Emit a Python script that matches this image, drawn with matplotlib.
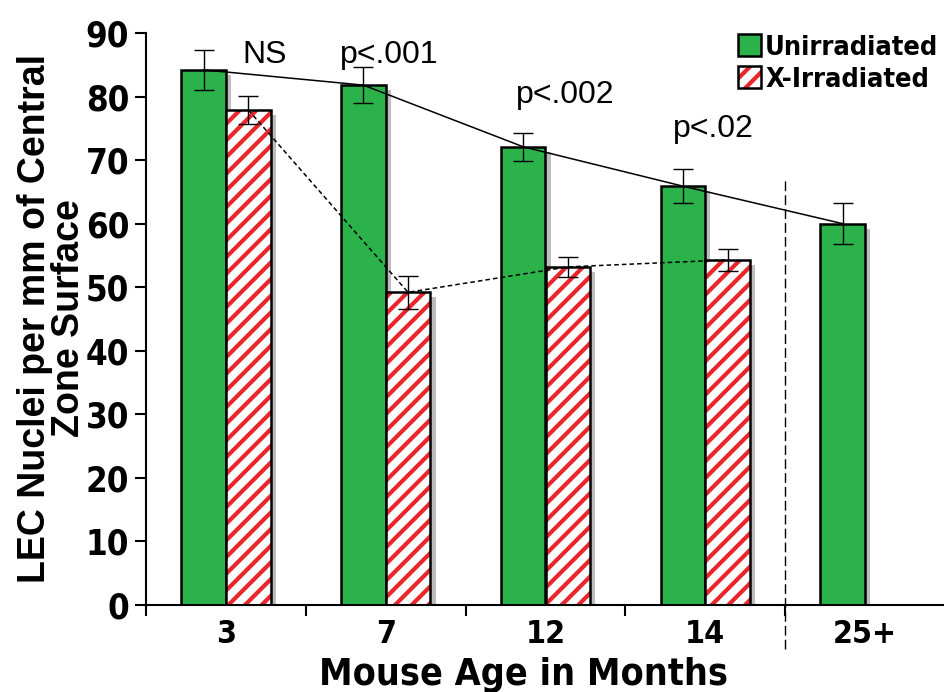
import numpy as np
import matplotlib
matplotlib.use('Agg')
import matplotlib.pyplot as plt
from matplotlib.patches import Patch

# 数据：各月龄的LEC核密度（均值±误差）
ages = ['3', '7', '12', '14', '25+']
unirr = [84.2, 81.8, 72.1, 65.9, 60.0]
unirr_err = [3.1, 2.8, 2.2, 2.7, 3.2]
xirr = [77.9, 49.2, 53.2, 54.3]
xirr_err = [2.2, 2.6, 1.6, 1.7]
pvals = ['NS', 'p<.001', 'p<.002', 'p<.02']

GREEN = '#2cb24b'
RED = '#e8262b'
SHADOW = '#bcbcbc'
narrow = ['DejaVu Sans Condensed', 'DejaVu Sans']

plt.rcParams['hatch.linewidth'] = 3.0

fig = plt.figure(figsize=(9.45, 6.92), dpi=100)
ax = fig.add_axes([146/945, 1-605/692, 799/945, 572/692])

w = 0.28
x = np.arange(len(ages))
xg = x - w/2
xh = x[:len(xirr)] + w/2

# 阴影
ax.bar(xg + 0.032, np.array(unirr) - 0.8, w, color=SHADOW, linewidth=0, zorder=1)
ax.bar(xh + 0.032, np.array(xirr) - 0.8, w, color=SHADOW, linewidth=0, zorder=1)

# 未照射组
ax.bar(xg, unirr, w, color=GREEN, edgecolor='black', linewidth=1.8, zorder=2)
# 照射组：红色斜纹
ax.bar(xh, xirr, w, facecolor='white', edgecolor=RED, hatch='//', linewidth=0, zorder=2)
ax.bar(xh, xirr, w, fill=False, edgecolor='black', linewidth=1.8, zorder=3)

# 连线
ax.plot(xg, unirr, color='black', lw=1.1, zorder=4)
ax.plot(xh, xirr, color='black', lw=1.1, ls=(0, (3, 2)), zorder=4)

# 误差线
ax.errorbar(xg, unirr, yerr=unirr_err, fmt='none', ecolor='black',
            elinewidth=1, capsize=7, capthick=1, zorder=5)
ax.errorbar(xh, xirr, yerr=xirr_err, fmt='none', ecolor='black',
            elinewidth=1, capsize=7, capthick=1, zorder=5)

# 25+ 分隔虚线
ax.plot([3.5, 3.5], [-7, 67], color='black', lw=1, ls=(0, (7, 3)), clip_on=False, zorder=1)

# p值标注
px = [0.24, 1.02, 2.125, 3.05]
py = [85.3, 85.3, 79.0, 73.6]
for t, a, b in zip(pvals, px, py):
    ax.text(a, b, t, ha='center', va='baseline', fontsize=23,
            family=['Liberation Sans', 'DejaVu Sans'])

ax.set_xlim(-0.5, 4.5)
ax.set_ylim(0, 90)
for s in ['top', 'right']:
    ax.spines[s].set_visible(False)
ax.spines['left'].set_linewidth(1.5)
ax.spines['bottom'].set_linewidth(1.5)

ax.set_yticks(np.arange(0, 91, 10))
ax.tick_params(axis='y', direction='out', length=8, width=1.5, pad=4)
for lb in ax.get_yticklabels():
    lb.set_fontsize(25)
    lb.set_fontweight('bold')
    lb.set_family(narrow)
    lb.set_fontstretch('condensed')

ax.set_xticks([-0.5, 0.5, 1.5, 2.5, 3.5])
ax.set_xticklabels([])
ax.tick_params(axis='x', which='major', direction='out', length=8, width=1.5)
ax.set_xticks(x, minor=True)
ax.set_xticklabels(ages, minor=True)
ax.tick_params(axis='x', which='minor', length=0, pad=10)
for lb in ax.get_xticklabels(minor=True):
    lb.set_fontsize(23)
    lb.set_fontweight('bold')
    lb.set_family(narrow)
    lb.set_fontstretch('condensed')

fig.text(524/945, 1-685/692, 'Mouse Age in Months', ha='center', va='baseline',
         fontsize=27, fontweight='bold', family=narrow, fontstretch='condensed')
fig.text(52/945, 0.54, 'LEC Nuclei per mm of Central\nZone Surface', rotation=90,
         ha='center', va='center', fontsize=27, fontweight='bold',
         family=['Liberation Sans', 'DejaVu Sans'], linespacing=0.95)

# 图例
h1 = Patch(facecolor=GREEN, edgecolor='black', linewidth=1.8)
h2 = (Patch(facecolor='white', edgecolor=RED, hatch='//', linewidth=0),
      Patch(fill=False, edgecolor='black', linewidth=1.8))
fig.legend([h1, h2], ['Unirradiated', 'X-Irradiated'], loc='upper left',
           bbox_to_anchor=(738/945, 1-34/692), frameon=False,
           prop={'family': narrow, 'weight': 'bold', 'size': 19.5, 'stretch': 'condensed'},
           handlelength=0.85, handleheight=0.9, handletextpad=0.15,
           labelspacing=0.2, borderpad=0, borderaxespad=0)

fig.savefig('out.png', dpi=100)
